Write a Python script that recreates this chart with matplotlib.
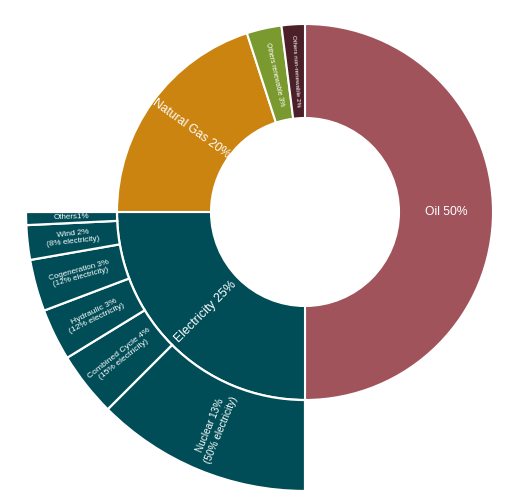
import numpy as np
import matplotlib
matplotlib.use("Agg")
import matplotlib.pyplot as plt
from matplotlib.patches import Wedge

plt.rcParams['font.family'] = ['Liberation Sans', 'DejaVu Sans']

# ---- data ----
main_labels = ['Oil', 'Electricity', 'Natural Gas', 'Others renewable', 'Others non-renewable']
main_values = [50, 25, 20, 3, 2]
main_colors = ['#A0535B', '#004D57', '#CC8411', '#7A9A2F', '#4C2029']

elec_labels = ['Nuclear', 'Combined Cycle', 'Hydraulic', 'Cogeneration', 'Wind', 'Others']
elec_total_pct = [13, 4, 3, 3, 2, 1]
elec_share = [50, 15, 12, 12, 8, 3]

main_font = [8.7, 8.9, 8.7, 4.9, 4.5]
elec_font = [7.2, 6.1, 6.1, 5.8, 5.9, 5.8]

# ---- layout ----
W, H = 512, 500
fig = plt.figure(figsize=(W / 100, H / 100), dpi=100)
ax = fig.add_axes([0, 0, 1, 1])
ax.set_xlim(0, W)
ax.set_ylim(0, H)
ax.set_aspect('equal')
ax.axis('off')

cx, cy = 305, H - 212
r_in, r_mid, r_out = 94, 188, 279


def radial_text(x_angle, radius, text, size):
    m = np.deg2rad(x_angle)
    x = cx + radius * np.cos(m)
    y = cy + radius * np.sin(m)
    rot = x_angle % 360
    if 90 < rot < 270:
        rot -= 180
    ax.text(x, y, text, color='white', fontsize=size, rotation=rot,
            rotation_mode='anchor', ha='center', va='center',
            multialignment='center', linespacing=1.1)


total = sum(main_values)
start = 90.0
elec_range = None
for lab, v, c, fs in zip(main_labels, main_values, main_colors, main_font):
    span = v / total * 360
    a1, a2 = start - span, start
    ax.add_patch(Wedge((cx, cy), r_mid, a1, a2, width=r_mid - r_in,
                       facecolor=c, edgecolor='white', linewidth=1.5))
    radial_text((a1 + a2) / 2, (r_in + r_mid) / 2, f'{lab} {v}%', fs)
    if lab == 'Electricity':
        elec_range = (a1, a2)
    start = a1

# electricity breakdown
e1, e2 = elec_range
esum = sum(elec_share)
start = e2
for lab, p, s, fs in zip(elec_labels, elec_total_pct, elec_share, elec_font):
    span = s / esum * (e2 - e1)
    a1, a2 = start - span, start
    ax.add_patch(Wedge((cx, cy), r_out, a1, a2, width=r_out - r_mid,
                       facecolor=main_colors[1], edgecolor='white', linewidth=1.6))
    if lab == 'Others':
        txt = f'{lab}{p}%'
    else:
        txt = f'{lab} {p}%\n({s}% electricity)'
    radial_text((a1 + a2) / 2, (r_mid + r_out) / 2, txt, fs)
    start = a1

fig.savefig('out.png', dpi=100, facecolor='white')
